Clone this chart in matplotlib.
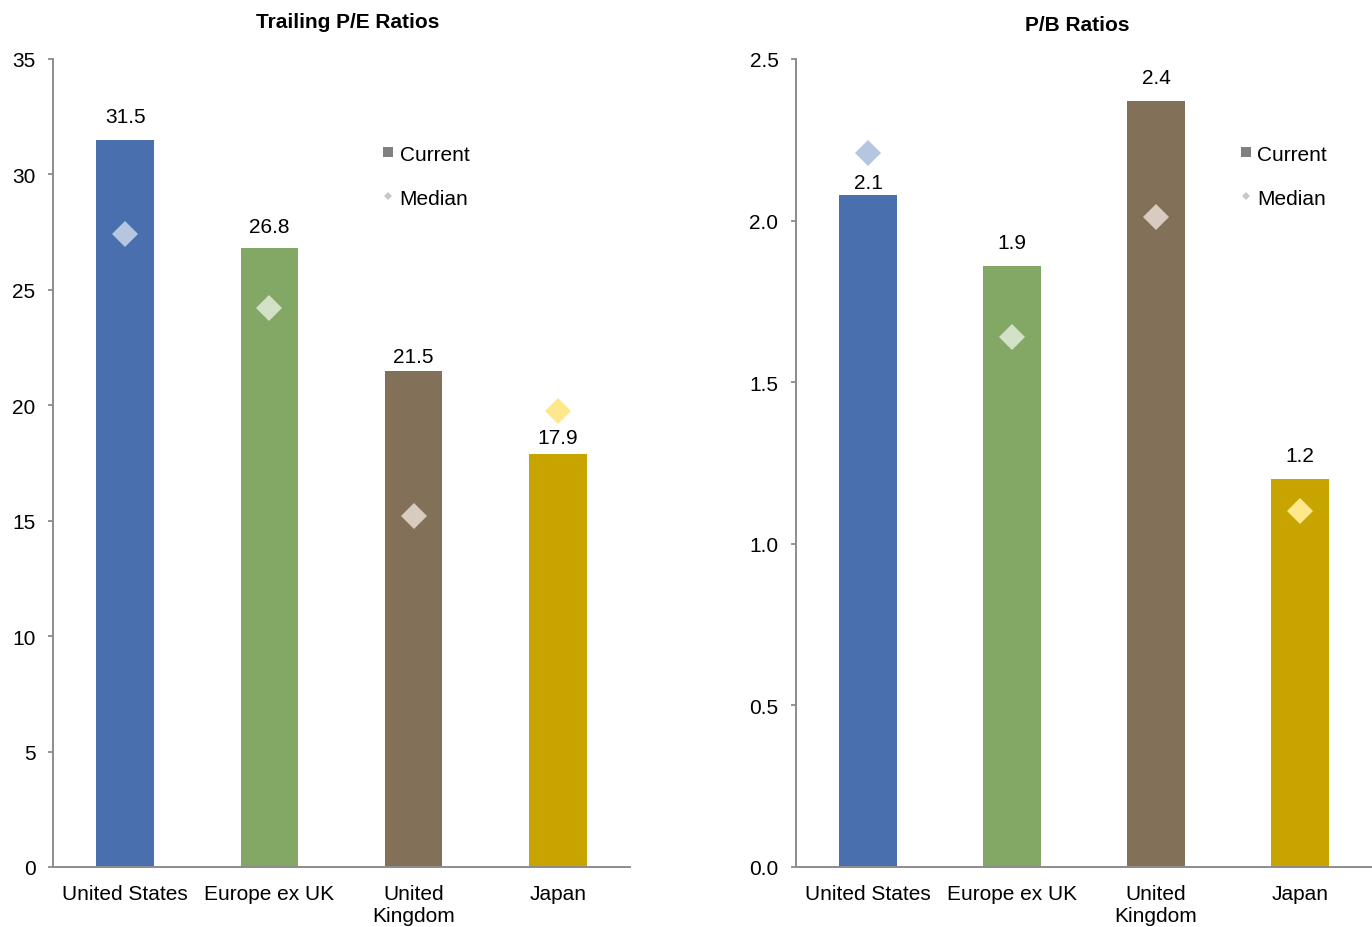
import matplotlib
matplotlib.use("Agg")
import matplotlib.pyplot as plt
from matplotlib.lines import Line2D

categories = ["United States", "Europe ex UK", "United\nKingdom", "Japan"]
pe_current = [31.5, 26.8, 21.5, 17.9]
pe_median = [27.4, 24.2, 15.2, 19.75]
pb_current = [2.08, 1.86, 2.37, 1.20]
pb_median = [2.21, 1.64, 2.01, 1.10]
pb_labels = ["2.1", "1.9", "2.4", "1.2"]
pe_labels = ["31.5", "26.8", "21.5", "17.9"]

bar_colors = ["#4A6FAF", "#83A764", "#827158", "#C8A400"]
diamond_colors = ["#B5C6E1", "#D3E1C7", "#D7CCBF", "#FFE78C"]
# label offsets above bar tops (points), as placed in the reference
pe_label_gap = [17, 16, 10, 12]
pb_label_gap = [8.6, 17, 17, 17.3]

plt.rcParams["font.family"] = ["Liberation Sans", "DejaVu Sans"]
FS = 15

fig = plt.figure(figsize=(13.72, 9.28), dpi=100)
ax1 = fig.add_axes([53/1372, 60/928, 577/1372, 808/928])
ax2 = fig.add_axes([796/1372, 60/928, 576/1372, 808/928])


def draw(ax, cur, med, labels, gaps, ymax, yticks, fmt, title, title_pos, leg_x):
    x = list(range(len(categories)))
    ax.bar(x, cur, width=0.4, color=bar_colors, zorder=2)
    for i in x:
        ax.plot(i, med[i], marker="D", markersize=13, color=diamond_colors[i],
                markeredgewidth=0, linestyle="none", zorder=3)
        ax.annotate(labels[i], (i, cur[i]), xytext=(0, gaps[i]), textcoords="offset points",
                    ha="center", va="center", fontsize=FS)
    ax.set_xlim(-0.5, 3.5)
    ax.set_ylim(0, ymax)
    ax.set_yticks(yticks)
    ax.set_yticklabels([fmt.format(v) for v in yticks], fontsize=FS)
    ax.set_xticks(x)
    ax.set_xticklabels(categories, fontsize=FS, linespacing=1.2)
    ax.tick_params(axis="x", length=0, pad=12.5)
    ax.tick_params(axis="y", length=3.6, width=1.3, color="#8C8C8C", pad=9, direction="out")
    for s in ["top", "right"]:
        ax.spines[s].set_visible(False)
    for s in ["left", "bottom"]:
        ax.spines[s].set_color("#8C8C8C")
        ax.spines[s].set_linewidth(1.4)
    ax.text(title_pos[0], title_pos[1], title, transform=ax.transAxes, fontsize=FS,
            fontweight="bold", ha="center", va="center")
    handles = [
        Line2D([], [], marker="s", color="#808080", markersize=7.2, linestyle="none", markeredgewidth=0),
        Line2D([], [], marker="D", color="#C8C8C8", markersize=4.5, linestyle="none", markeredgewidth=0),
    ]
    ax.legend(handles, ["Current", "Median"], loc="upper left", bbox_to_anchor=(leg_x, 0.894),
              frameon=False, fontsize=FS, handlelength=0.5, handletextpad=0.3,
              labelspacing=1.2, borderpad=0, borderaxespad=0)


draw(ax1, pe_current, pe_median, pe_labels, pe_label_gap, 35, [0, 5, 10, 15, 20, 25, 30, 35], "{:.0f}",
     "Trailing P/E Ratios", (0.511, 1.0458), 0.572)
draw(ax2, pb_current, pb_median, pb_labels, pb_label_gap, 2.5, [0, 0.5, 1.0, 1.5, 2.0, 2.5], "{:.1f}",
     "P/B Ratios", (0.488, 1.0433), 0.772)

fig.savefig("out.png", dpi=100)
